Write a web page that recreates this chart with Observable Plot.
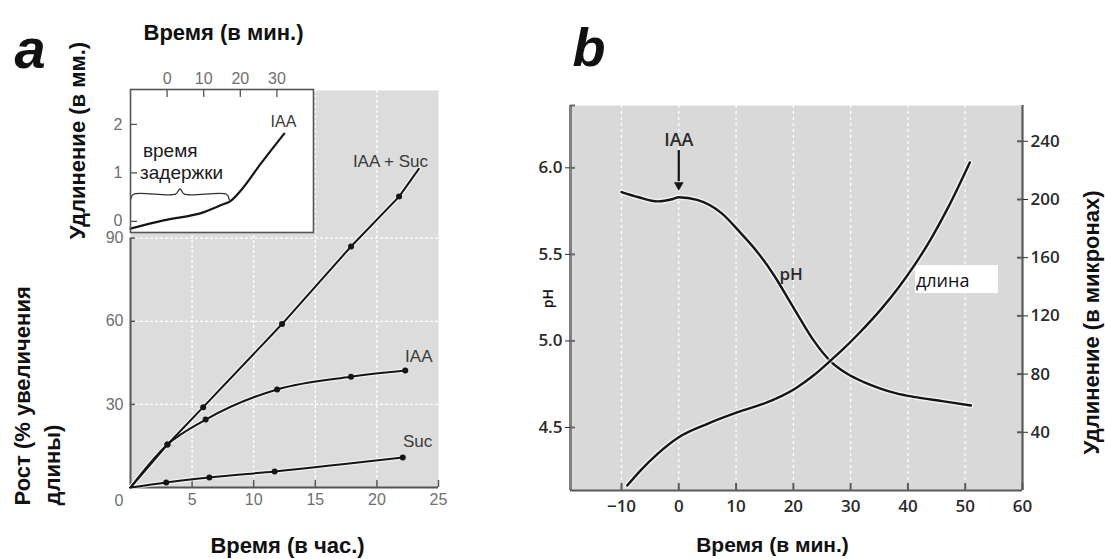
<!DOCTYPE html>
<html><head><meta charset="utf-8">
<script src="https://cdn.jsdelivr.net/npm/d3@7"></script>
<script src="https://cdn.jsdelivr.net/npm/@observablehq/plot@0.6"></script>
<style>
html,body{margin:0;padding:0;background:#fff;}
#wrap{position:relative;width:1105px;height:559px;overflow:hidden;background:#fff;}
#wrap svg{position:absolute;left:0;top:0;}
</style></head><body><div id="wrap"></div>
<script>
// ---------- Panel a, main chart: growth (% length increase) vs time (h) ----------
const iaaSucTime   = [0, 3.0, 5.9, 12.3, 17.9, 21.8, 23.4];
const iaaSucGrowth = [0, 15.5, 29, 59, 87, 105, 115];
const iaaSucDot    = [false, true, true, true, true, true, false];
const iaaTime   = [0, 3.0, 6.1, 11.9, 17.9, 22.3];
const iaaGrowth = [0, 15.5, 24.5, 35.4, 40, 42.2];
const iaaDot    = [false, true, true, true, true, true];
const sucTime   = [0, 2.9, 6.4, 11.7, 22.1];
const sucGrowth = [0, 1.8, 3.6, 5.8, 10.8];
const sucDot    = [false, true, true, true, true];
const hourTicks   = [0, 5, 10, 15, 20, 25];
const growthTicks = [0, 30, 60, 90];
const seriesNames = ["IAA + Suc", "IAA", "Suc"];

// ---------- Panel a, inset: elongation (mm) vs time (min) ----------
const lagTime  = [-10, -1, 10.1, 14.6, 17.5, 20.2, 25.6, 32];
const lagElong = [-0.15, 0.02, 0.19, 0.33, 0.43, 0.64, 1.19, 1.81];
const insetMinuteTicks = [0, 10, 20, 30];
const mmTicks = [0, 1, 2];
const lagPeriod = [-10, 17];

// ---------- Panel b: pH and elongation (microns) vs time (min) ----------
const phTime  = [-10, -7, -3.7, -1, 0, 3.2, 7.4, 10.9, 13.8, 16.7, 19.6, 21.5, 23.6, 26.5, 29.4, 32.3, 35.2, 38, 41, 46, 51];
const phValue = [5.86, 5.83, 5.806, 5.82, 5.83, 5.815, 5.74, 5.62, 5.51, 5.375, 5.215, 5.11, 5.0, 4.882, 4.81, 4.762, 4.725, 4.697, 4.677, 4.652, 4.627];
const lenTime  = [-9, -6.7, -3.7, 0, 5, 10.3, 15.5, 18, 20.5, 23.5, 26.5, 28.4, 31.3, 35.4, 38.3, 41.2, 44.1, 47, 50.8];
const lenValue = [3.4, 13.7, 25.2, 36.6, 45.8, 53.8, 60.7, 65, 70.5, 79, 89.3, 96.1, 107.4, 125, 139.2, 155.2, 173.5, 194.4, 225.5];
const minuteTicks = [-10, 0, 10, 20, 30, 40, 50, 60];
const phTicks = [4.5, 5.0, 5.5, 6.0];
const micronTicks = [40, 80, 120, 160, 200, 240];
const iaaAddedAt = 0;

// ---------- layout ----------
const W = 1105, H = 559;
const wrap = document.getElementById("wrap");
const add = (svg) => wrap.appendChild(svg);
const fA = "'Liberation Sans', Arial, sans-serif";
const fB = "'Open Sans', sans-serif";
const ink = "#151515";
const base = {width: W, height: H, style: {background: "transparent", overflow: "visible"}};

const rows = (xs, ys, flags) => xs.map((t, i) => ({t, v: ys[i], dot: flags ? flags[i] : false}));
const iaaSucData = rows(iaaSucTime, iaaSucGrowth, iaaSucDot);
const iaaData = rows(iaaTime, iaaGrowth, iaaDot);
const sucData = rows(sucTime, sucGrowth, sucDot);

// Panel a main
const aF = {marginLeft: 130, marginRight: W - 438, marginTop: 90, marginBottom: H - 487};
const aY = [0, 143.3];
const aW = 438 - 130, aH = 487 - 90;
const seriesLabelPos = [
  {name: seriesNames[0], t: 21.1, v: 117.5},
  {name: seriesNames[1], t: 23.4, v: 47.3},
  {name: seriesNames[2], t: 23.3, v: 16.6}
];
const grid = {stroke: "#fff", strokeOpacity: 1, strokeWidth: 1.3, strokeDasharray: "3,2"};
const aTick = {tickSize: 0, label: null, fontSize: 16, fontFamily: fA, color: "#6e6e6e", tickFormat: d => String(d)};
add(Plot.plot({
  ...base, ...aF,
  x: {domain: [0, 25]}, y: {domain: aY},
  marks: [
    Plot.frame({fill: "#dcdcdc", stroke: "none"}),
    Plot.gridX(hourTicks.slice(1, -1), grid),
    Plot.gridY(growthTicks.slice(1), grid),
    Plot.ruleY([0], {stroke: "#555", strokeWidth: 2}),
    Plot.ruleX([0], {y1: 0, y2: 90, stroke: "#555", strokeWidth: 2}),
    Plot.tickX(hourTicks.slice(1), {insetTop: aH - 7, stroke: "#555", strokeWidth: 1.5}),
    Plot.tickY(growthTicks.slice(1), {insetRight: aW - 5, stroke: "#555", strokeWidth: 1.5}),
    Plot.axisX({...aTick, ticks: hourTicks.slice(1), tickPadding: 6}),
    Plot.axisY({...aTick, ticks: growthTicks.slice(1), tickPadding: 7}),
    Plot.axisY({...aTick, ticks: growthTicks.slice(0, 1), tickPadding: 7, dy: 13}),
    Plot.line(iaaSucData, {x: "t", y: "v", stroke: "#fff", strokeWidth: 4.5, strokeOpacity: 0.6}),
    Plot.line(iaaData, {x: "t", y: "v", stroke: "#fff", strokeWidth: 4.5, strokeOpacity: 0.6, curve: "monotone-x"}),
    Plot.line(sucData, {x: "t", y: "v", stroke: "#fff", strokeWidth: 4.5, strokeOpacity: 0.6, curve: "monotone-x"}),
    Plot.line(iaaSucData, {x: "t", y: "v", stroke: ink, strokeWidth: 2}),
    Plot.line(iaaData, {x: "t", y: "v", stroke: ink, strokeWidth: 2, curve: "monotone-x"}),
    Plot.line(sucData, {x: "t", y: "v", stroke: ink, strokeWidth: 2, curve: "monotone-x"}),
    Plot.dot([...iaaSucData, ...iaaData, ...sucData].filter(d => d.dot), {x: "t", y: "v", r: 3, fill: ink, stroke: "none"}),
    Plot.text(seriesLabelPos, {x: "t", y: "v", text: "name", fontSize: 17, fontFamily: fA, fill: "#3a3a3a"})
  ]
}));

// Panel a inset
const inF = {marginLeft: 130, marginRight: W - 313, marginTop: 89, marginBottom: H - 232};
const inW = 313 - 130, inH = 232 - 89;
const inY = [-0.23, 2.72];
const lagData = rows(lagTime, lagElong);
// brace under "время задержки", derived from the lag period
const bl = 0.56, bd = 0.11, bm = (lagPeriod[0] + lagPeriod[1]) / 2;
const brace = [
  {t: lagPeriod[0], v: bl - bd}, {t: lagPeriod[0] + 0.8, v: bl}, {t: bm - 1.2, v: bl}, {t: bm, v: bl + bd},
  {t: bm + 1.2, v: bl}, {t: lagPeriod[1] - 0.8, v: bl}, {t: lagPeriod[1], v: bl - bd}
];
add(Plot.plot({
  ...base, ...inF,
  x: {domain: [-10, 40]}, y: {domain: inY},
  marks: [
    Plot.frame({fill: "#fff", stroke: "none"}),
    Plot.line(brace, {x: "t", y: "v", stroke: "#333", strokeWidth: 1.3, curve: "catmull-rom"}),
    Plot.line(lagData, {x: "t", y: "v", stroke: ink, strokeWidth: 2.2, curve: "monotone-x"}),
    Plot.text(["время"], {x: -6.6, y: 1.45, textAnchor: "start", fontSize: 19, fontFamily: fA, fill: "#1a1a1a"}),
    Plot.text(["задержки"], {x: -7.4, y: 0.99, textAnchor: "start", fontSize: 19, fontFamily: fA, fill: "#1a1a1a"}),
    Plot.text(["IAA"], {x: 31.8, y: 2.05, fontSize: 16, fontFamily: fA, fill: "#3a3a3a"}),
    Plot.tickX(insetMinuteTicks, {insetBottom: inH - 8, stroke: "#555", strokeWidth: 1.3}),
    Plot.tickY(mmTicks, {insetRight: inW - 7, stroke: "#555", strokeWidth: 1.3}),
    Plot.axisX({...aTick, anchor: "top", ticks: insetMinuteTicks, tickPadding: 6}),
    Plot.axisY({...aTick, ticks: mmTicks, tickPadding: 8}),
    Plot.frame({stroke: "#555", strokeWidth: 1.6})
  ]
}));

// Panel b
const bF = {marginLeft: 570, marginRight: W - 1022, marginTop: 105, marginBottom: H - 490};
const bW = 1022 - 570, bH = 490 - 105;
const bX = [-18.9, 60];
const phDomain = [4.136, 6.36];
const lenDomain = [0, 264.6];
const phData = rows(phTime, phValue);
const lenData = rows(lenTime, lenValue);
const bTick = {fontSize: 17, fontWeight: 600, fontFamily: fB, color: "#2a2a2a"};
const iaaMark = [{t: iaaAddedAt, top: 6.10, end: 5.92, head: 5.90, label: 6.16}];
add(Plot.plot({
  ...base, ...bF,
  x: {domain: bX}, y: {domain: phDomain},
  marks: [
    Plot.frame({fill: "#d9d9d9", stroke: "none"}),
    Plot.gridX(minuteTicks.filter(t => t < bX[1]), {stroke: "#fff", strokeOpacity: 0.95, strokeWidth: 1.3, strokeDasharray: "3,3"}),
    Plot.ruleX([bX[0]], {stroke: "#808080", strokeWidth: 3}),
    Plot.ruleY([phDomain[0]], {stroke: "#5a5a5a", strokeWidth: 2.2}),
    Plot.tickX(minuteTicks, {insetTop: bH - 7, stroke: "#5a5a5a", strokeWidth: 2}),
    Plot.tickY([...phTicks, phDomain[1]], {insetRight: bW - 5, stroke: "#6a6a6a", strokeWidth: 2}),
    Plot.axisX({ticks: minuteTicks, tickSize: 0, tickPadding: 9, label: null, ...bTick}),
    Plot.axisY({ticks: phTicks, tickSize: 5, tickPadding: 3, tickFormat: ".1f", label: null, ...bTick}),
    Plot.line(phData, {x: "t", y: "v", stroke: "#fff", strokeWidth: 5.5, strokeOpacity: 0.6, curve: "monotone-x"}),
    Plot.line(phData, {x: "t", y: "v", stroke: ink, strokeWidth: 2.4, curve: "monotone-x"}),
    Plot.text(["pH"], {x: 19.6, y: 5.385, fontSize: 17, fontWeight: 600, fontFamily: fB, fill: "#2a2a2a"}),
    Plot.ruleX(iaaMark, {x: "t", y1: "top", y2: "end", stroke: ink, strokeWidth: 2.2}),
    Plot.dot(iaaMark, {x: "t", y: "head", symbol: "triangle", rotate: 180, r: 3.6, fill: ink, stroke: "none"}),
    Plot.text(iaaMark, {x: "t", y: "label", text: () => "IAA", fontSize: 18, fontWeight: 600, fontFamily: fB, fill: "#2a2a2a"})
  ]
}));
add(Plot.plot({
  ...base, ...bF,
  x: {domain: bX, axis: null}, y: {domain: lenDomain},
  marks: [
    Plot.ruleX([bX[1]], {stroke: "#5a5a5a", strokeWidth: 2.2}),
    Plot.tickY(micronTicks, {insetLeft: bW - 5, stroke: "#5a5a5a", strokeWidth: 2}),
    Plot.axisY({anchor: "right", ticks: micronTicks, tickSize: 5, tickPadding: 3, label: null, ...bTick}),
    Plot.rect([{x1: 41.3, x2: 55.8, y1: 135.4, y2: 154.6}], {x1: "x1", x2: "x2", y1: "y1", y2: "y2", fill: "#fff"}),
    Plot.line(lenData, {x: "t", y: "v", stroke: "#fff", strokeWidth: 5.5, strokeOpacity: 0.6, curve: "monotone-x"}),
    Plot.line(lenData, {x: "t", y: "v", stroke: ink, strokeWidth: 2.4, curve: "monotone-x"}),
    Plot.text(["длина"], {x: 41.4, y: 143.5, textAnchor: "start", fontSize: 18, fontFamily: fB, fill: "#111"})
  ]
}));

// Titles and axis labels
const T = (s, dx, dy, o = {}) => Plot.text([s], {text: d => d, frameAnchor: "top-left", dx, dy,
  textAnchor: "middle", lineAnchor: "middle", fontFamily: fA, fontWeight: "bold", fontSize: 22, fill: "#111", ...o});
add(Plot.plot({
  ...base, margin: 0,
  marks: [
    T("a", 14, 67, {fontSize: 56, fontStyle: "italic", lineAnchor: "bottom", textAnchor: "start"}),
    T("b", 572, 65, {fontSize: 54, fontStyle: "italic", lineAnchor: "bottom", textAnchor: "start"}),
    T("Время (в мин.)", 223, 32),
    T("Удлинение (в мм.)", 77, 140, {rotate: -90}),
    T("Рост (% увеличения", 22, 505, {rotate: -90, textAnchor: "start"}),
    T("длины)", 52, 505, {rotate: -90, textAnchor: "start"}),
    T("Время (в час.)", 287, 545),
    T("Время (в мин.)", 772, 545, {fontSize: 21}),
    T("Удлинение (в микронах)", 1091, 322, {rotate: -90}),
    T("pH", 548, 298, {rotate: -90, fontSize: 14, fontWeight: 600, fontFamily: fB})
  ]
}));
</script></body></html>
